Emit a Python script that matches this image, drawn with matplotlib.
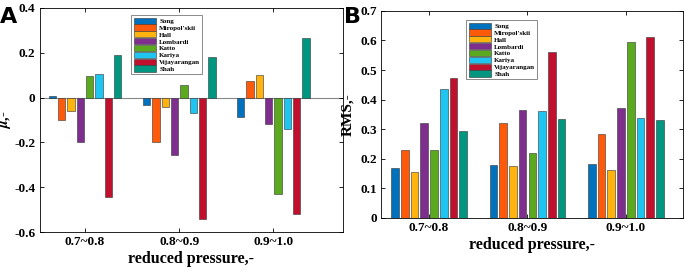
import numpy as np
import matplotlib.pyplot as plt

groups = ["0.7~0.8", "0.8~0.9", "0.9~1.0"]
models = ["Song", "Miropol'skii", "Hall", "Lombardi", "Katto", "Kariya", "Vijayarangan", "Shah"]
colors = ["#0072BD", "#FF5A0A", "#FFB30F", "#7E2F8E", "#5AA91E", "#1EC5F0", "#C0102E", "#019680"]

# mean relative deviation, one row per model, columns = pressure groups
mu = {
    "Song":         [0.005, -0.035, -0.085],
    "Miropol'skii": [-0.100, -0.200, 0.075],
    "Hall":         [-0.060, -0.040, 0.100],
    "Lombardi":     [-0.200, -0.255, -0.120],
    "Katto":        [0.098, 0.055, -0.432],
    "Kariya":       [0.107, -0.070, -0.140],
    "Vijayarangan": [-0.445, -0.540, -0.520],
    "Shah":         [0.190, 0.180, 0.265],
}
rms = {
    "Song":         [0.170, 0.180, 0.183],
    "Miropol'skii": [0.228, 0.320, 0.283],
    "Hall":         [0.156, 0.175, 0.162],
    "Lombardi":     [0.320, 0.365, 0.370],
    "Katto":        [0.230, 0.218, 0.595],
    "Kariya":       [0.437, 0.360, 0.337],
    "Vijayarangan": [0.472, 0.560, 0.613],
    "Shah":         [0.295, 0.333, 0.330],
}

plt.rcParams["font.family"] = "Liberation Serif"
plt.rcParams["font.weight"] = "bold"
plt.rcParams["mathtext.fontset"] = "stix"

fig = plt.figure(figsize=(6.85, 2.72), dpi=100)
axA = fig.add_axes([0.058, 0.147, 0.443, 0.824])
axB = fig.add_axes([0.556, 0.199, 0.441, 0.761])

x = np.arange(1, 4)
step = 0.099
width = 0.078


def draw(ax, data):
    for i, name in enumerate(models):
        off = (i - 3.5) * step
        ax.bar(x + off, data[name], width, color=colors[i], edgecolor="#333333",
               linewidth=0.4, label=name)
    ax.set_xticks(x)
    ax.set_xticklabels(groups)
    ax.tick_params(direction="in", top=True, right=True, labelsize=9.5, length=3,
                   width=0.6, pad=3)
    ax.set_xlabel("reduced pressure,-", fontsize=11.5, fontweight="bold", labelpad=2)
    for s in ax.spines.values():
        s.set_linewidth(0.6)
    leg = ax.legend(frameon=True, fancybox=False, edgecolor="#555555",
                    handlelength=3.3, handleheight=1.0, labelspacing=0.05,
                    borderpad=0.3, handletextpad=0.4, prop={"size": 5, "weight": "bold"})
    leg.get_frame().set_linewidth(0.6)
    return leg


legA = draw(axA, mu)
axA.axhline(0, color="#888888", lw=0.8, zorder=0)
axA.set_xlim(0.52, 3.74)
axA.set_ylim(-0.6, 0.4)
axA.set_yticks([-0.6, -0.4, -0.2, 0, 0.2, 0.4])
axA.set_yticklabels(["-0.6", "-0.4", "-0.2", "0", "0.2", "0.4"])
axA.set_ylabel(r"$\mu$,-", fontsize=10.5, fontweight="bold")
axA.yaxis.set_label_coords(-0.088, 0.5)
legA.set_bbox_to_anchor((128 / 685, 1 - 12 / 272), transform=fig.transFigure)
legA.set_loc("upper left")

legB = draw(axB, rms)
axB.set_xlim(0.51, 3.58)
axB.set_ylim(0, 0.7)
axB.set_yticks(np.arange(0, 0.71, 0.1))
axB.set_yticklabels(["0", "0.1", "0.2", "0.3", "0.4", "0.5", "0.6", "0.7"])
axB.set_ylabel("RMS,-", fontsize=11, fontweight="bold")
axB.yaxis.set_label_coords(-0.088, 0.5)
legB.set_bbox_to_anchor((463 / 685, 1 - 17 / 272), transform=fig.transFigure)
legB.set_loc("upper left")

fig.text(0.0, 0.975, "A", fontsize=16, fontweight="bold", family="DejaVu Sans", va="top")
fig.text(0.502, 0.975, "B", fontsize=16, fontweight="bold", family="DejaVu Sans", va="top")

fig.savefig("out.png", dpi=100)
